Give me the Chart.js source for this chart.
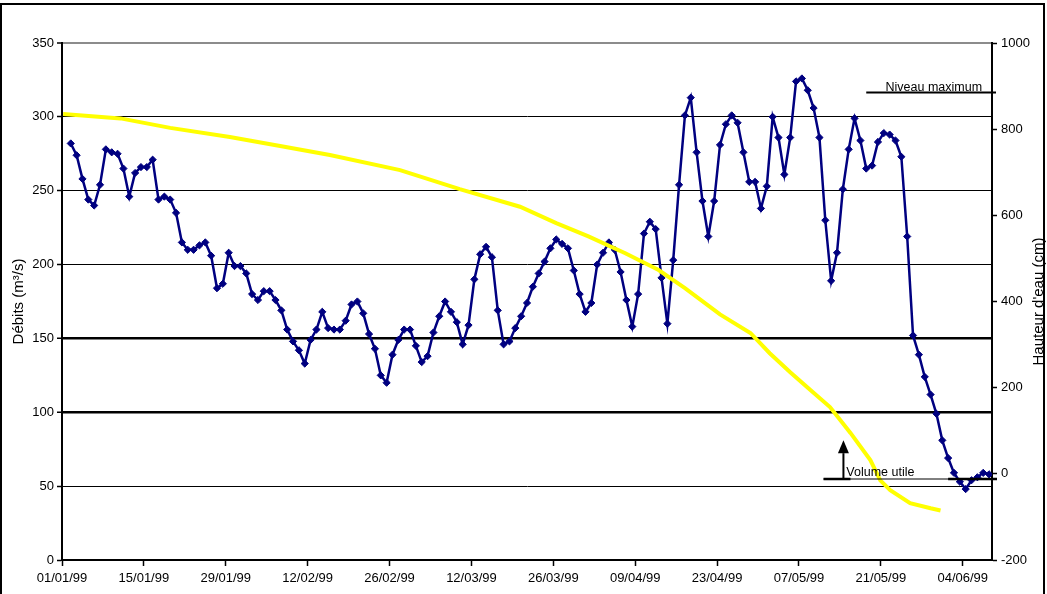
<!DOCTYPE html>
<html>
<head>
<meta charset="utf-8">
<script src="https://cdn.jsdelivr.net/npm/chart.js@4.4.1/dist/chart.umd.min.js"></script>
<style>
	body { margin: 0; background: #fff; }
	#wrap { position: relative; width: 1047px; height: 594px; }
</style>
</head>
<body>
<div id="wrap">
	<canvas id="debitChart"></canvas>
</div>
<script>
// débits journaliers (m3/s), un point par jour à partir du 02/01/99
var flowStartDay = 1;
var flows = [
	282, 274, 258, 244, 240, 254, 278, 276, 275, 265,
	246, 262, 266, 266, 271, 244, 246, 244, 235, 215,
	210, 210, 213, 215, 206, 184, 187, 208, 199, 199,
	194, 180, 176, 182, 182, 176, 169, 156, 148, 142,
	133, 149, 156, 168, 157, 156, 156, 162, 173, 175,
	167, 153, 143, 125, 120, 139, 149, 156, 156, 145,
	134, 138, 154, 165, 175, 168, 161, 146, 159, 190,
	207, 212, 205, 169, 146, 148, 157, 165, 174, 185,
	194, 202, 211, 217, 214, 211, 196, 180, 168, 174,
	200, 208, 215, 210, 195, 176, 158, 180, 221, 229,
	224, 191, 160, 203, 254, 301, 313, 276, 243, 219,
	243, 281, 295, 301, 296, 276, 256, 256, 238, 253,
	300, 286, 261, 286, 324, 326, 318, 306, 286, 230,
	189, 208, 251, 278, 299, 284, 265, 267, 283, 289,
	288, 284, 273, 219, 152, 139, 124, 112, 99, 81,
	69, 59, 53, 48, 54, 56, 59, 58
];

// hauteur d'eau (cm), jours comptés depuis le 01/01/99
var levelDays = [0.2, 10, 18.5, 28.7, 37.3, 45.8, 57.8, 68, 78.3, 84.5, 90, 96.3, 102, 106.5, 112.5, 117.7, 121, 124.5, 128, 131.3, 134.8, 138.2, 139.9, 141.6, 145, 148.5, 150.2];
var levels = [835, 825, 803, 782, 761, 740, 705, 661, 620, 582, 551, 512, 473, 431, 370, 327, 280, 236, 194, 155, 95, 32, -15, -38, -68, -80, -85];

var tickDays = [0, 14, 28, 42, 56, 70, 84, 98, 112, 126, 140, 154];
var tickLabels = ['01/01/99', '15/01/99', '29/01/99', '12/02/99', '26/02/99', '12/03/99', '26/03/99', '09/04/99', '23/04/99', '07/05/99', '21/05/99', '04/06/99'];

var niveauMax = 885;
var volumeUtile = -12;

var fontFamily = "'Liberation Sans', Arial, sans-serif";
var tickFont = { family: fontFamily, size: 13 };

var flowPoints = flows.map(function(v, i) {
	return { x: flowStartDay + i + 0.5, y: v };
});
var levelPoints = levels.map(function(v, i) {
	return { x: levelDays[i], y: v };
});

var extras = {
	id: 'extras',
	beforeDraw: function(chart) {
		var ctx = chart.ctx;
		ctx.save();
		ctx.fillStyle = '#fff';
		ctx.fillRect(0, 0, chart.width, chart.height);
		ctx.restore();
	},
	afterDraw: function(chart) {
		var ctx = chart.ctx;
		var xs = chart.scales.x;
		var yr = chart.scales.yHauteur;
		var area = chart.chartArea;
		var midY = (area.top + area.bottom) / 2;
		ctx.save();
		ctx.fillStyle = '#000';
		ctx.strokeStyle = '#000';

		// titres des axes
		ctx.font = '15px ' + fontFamily;
		ctx.textAlign = 'center';
		ctx.textBaseline = 'middle';
		ctx.save();
		ctx.translate(19, midY);
		ctx.rotate(-Math.PI / 2);
		ctx.fillText('Débits (m³/s)', 0, 0);
		ctx.restore();
		ctx.save();
		ctx.translate(1039, midY);
		ctx.rotate(-Math.PI / 2);
		ctx.fillText("Hauteur d'eau (cm)", 0, 0);
		ctx.restore();

		// niveau maximum
		var yMax = yr.getPixelForValue(niveauMax);
		ctx.lineWidth = 2;
		ctx.beginPath();
		ctx.moveTo(xs.getPixelForValue(137.5), yMax);
		ctx.lineTo(area.right + 4, yMax);
		ctx.stroke();
		ctx.font = '12.5px ' + fontFamily;
		ctx.textAlign = 'right';
		ctx.textBaseline = 'alphabetic';
		ctx.fillText('Niveau maximum', xs.getPixelForValue(157.3), yMax - 2);

		// volume utile
		var yVol = yr.getPixelForValue(volumeUtile);
		ctx.lineWidth = 1;
		ctx.beginPath();
		ctx.moveTo(xs.getPixelForValue(130.2), yVol);
		ctx.lineTo(area.right + 5, yVol);
		ctx.stroke();
		ctx.lineWidth = 2.5;
		ctx.beginPath();
		ctx.moveTo(xs.getPixelForValue(130.2), yVol);
		ctx.lineTo(xs.getPixelForValue(134.8), yVol);
		ctx.moveTo(xs.getPixelForValue(151.5), yVol);
		ctx.lineTo(area.right + 5, yVol);
		ctx.stroke();

		var ax = xs.getPixelForValue(133.6);
		var yBase = yr.getPixelForValue(48);
		var yTip = yr.getPixelForValue(78);
		ctx.lineWidth = 2;
		ctx.beginPath();
		ctx.moveTo(ax, yVol);
		ctx.lineTo(ax, yBase);
		ctx.stroke();
		ctx.beginPath();
		ctx.moveTo(ax - 5.5, yBase);
		ctx.lineTo(ax + 5.5, yBase);
		ctx.lineTo(ax, yTip);
		ctx.closePath();
		ctx.fill();

		ctx.textAlign = 'left';
		ctx.fillText('Volume utile', xs.getPixelForValue(134.1), yVol - 3);

		// cadre
		ctx.lineWidth = 2;
		ctx.strokeRect(1, 4, 1043, 600);
		ctx.restore();
	}
};

var ctx = document.getElementById('debitChart').getContext('2d');
var debitChart = new Chart(ctx, {
	type: 'line',
	data: {
		datasets: [{
			label: "Hauteur d'eau",
			data: levelPoints,
			yAxisID: 'yHauteur',
			borderColor: '#FFFF00',
			borderWidth: 4,
			pointRadius: 0,
			tension: 0,
			order: 0
		}, {
			label: 'Débits',
			data: flowPoints,
			yAxisID: 'yDebit',
			borderColor: '#000080',
			borderWidth: 2.5,
			pointStyle: 'rectRot',
			pointRadius: 3.6,
			pointBackgroundColor: '#000080',
			pointBorderColor: '#000080',
			pointBorderWidth: 1,
			tension: 0,
			order: 1
		}]
	},
	options: {
		responsive: true,
		maintainAspectRatio: false,
		animation: false,
		layout: { padding: { top: 43, left: 0, right: 0, bottom: 0 } },
		plugins: {
			legend: { display: false },
			tooltip: { enabled: false }
		},
		scales: {
			x: {
				type: 'linear',
				min: 0,
				max: 159,
				afterBuildTicks: function(scale) {
					scale.ticks = tickDays.map(function(d) { return { value: d }; });
				},
				afterFit: function(scale) { scale.height = 34; },
				ticks: {
					autoSkip: false,
					maxRotation: 0,
					padding: 5,
					color: '#000',
					font: tickFont,
					callback: function(value) {
						return tickLabels[tickDays.indexOf(value)];
					}
				},
				grid: { drawOnChartArea: false, tickLength: 6, tickColor: '#000', tickWidth: 1.5 },
				border: { color: '#000', width: 2 }
			},
			yDebit: {
				position: 'left',
				min: 0,
				max: 350,
				afterFit: function(scale) { scale.width = 62; },
				ticks: { stepSize: 50, padding: 3, color: '#000', font: tickFont },
				grid: {
					color: function(c) {
						return c.tick && c.tick.value === 350 ? '#8c8c8c' : '#000';
					},
					lineWidth: function(c) {
						if (!c.tick) return 1;
						if (c.tick.value === 100 || c.tick.value === 150) return 2.5;
						if (c.tick.value === 350) return 2;
						return 1;
					},
					tickLength: 5,
					tickColor: '#000',
					tickWidth: 1.5
				},
				border: { color: '#000', width: 2 }
			},
			yHauteur: {
				position: 'right',
				min: -200,
				max: 1000,
				afterFit: function(scale) { scale.width = 55; },
				ticks: {
					stepSize: 200,
					padding: 4,
					color: '#000',
					font: tickFont,
					callback: function(value) { return String(value); }
				},
				grid: { drawOnChartArea: false, tickLength: 5, tickColor: '#000', tickWidth: 1.5 },
				border: { color: '#000', width: 2 }
			}
		}
	},
	plugins: [extras]
});
</script>
</body>
</html>
